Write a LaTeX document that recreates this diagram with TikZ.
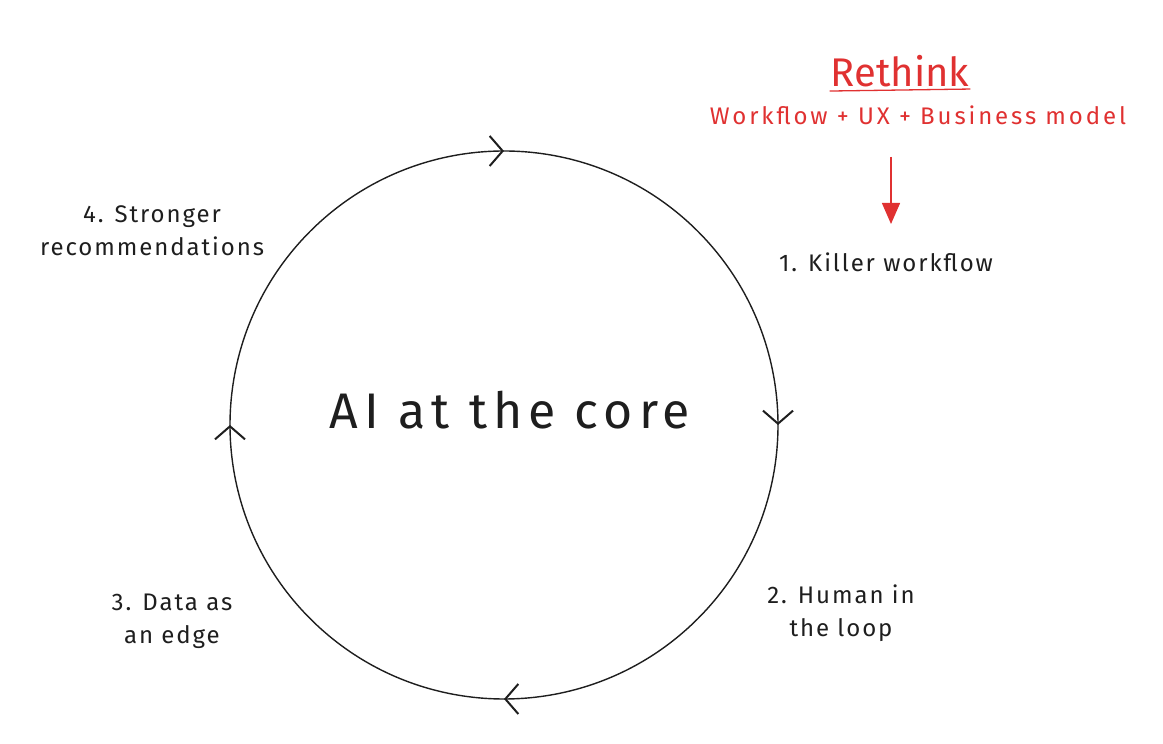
\documentclass[tikz,border=0pt]{standalone}
\usepackage{fontspec}
\setmainfont{Fira Sans}
\newfontfamily\handfont[LetterSpace=8]{Fira Sans}
\newfontfamily\widehandfont[LetterSpace=12]{Fira Sans}
\usetikzlibrary{arrows.meta, decorations.markings}
\definecolor{inkblack}{RGB}{30,30,30}
\definecolor{rethinkred}{RGB}{224,49,49}

\begin{document}
\begin{tikzpicture}[
    x=1pt, y=1pt,
    every node/.style={text=inkblack, align=center},
    lbl/.style={font=\handfont\fontsize{24}{33}\selectfont},
    redlbl/.style={font=\widehandfont\fontsize{24}{28}\selectfont, text=rethinkred},
    headlbl/.style={font=\fontsize{40}{44}\selectfont, text=rethinkred,
        inner sep=1pt},
    corelbl/.style={font=\widehandfont\fontsize{50}{56}\selectfont},
    flowcircle/.style={draw=inkblack, line width=1.4pt, postaction={decorate},
        decoration={markings,
            mark=between positions 0.125 and 0.875 step 0.25 with
                {\arrow{Straight Barb[length=13pt, width=30pt, line width=2pt]}}}},
    redline/.style={draw=rethinkred, line width=1.3pt},
    redarrow/.style={-{Triangle[length=21pt, width=18pt]},
        draw=rethinkred, fill=rethinkred, line width=1.4pt},
]
\useasboundingbox (0,0) rectangle (1163,744);

% ===== the cycle =====
\coordinate (core) at (504,319);
\draw[flowcircle] (core) ++(135:274)
    arc[start angle=135, end angle=-225, radius=274];
\node[corelbl] (corelabel) at (510,334) {AI at the core};

% ===== steps round the cycle =====
\node[lbl] (killer)   at (886,482) {1. Killer workflow};
\node[lbl] (human)    at (841,131) {2. Human in\\the loop};
\node[lbl] (data)     at (172,123) {3. Data as\\an edge};
\node[lbl] (stronger) at (152,513) {4. Stronger\\recommendations};

% ===== rethink note (top right) =====
\node[headlbl] (rethink)  at (900,673) {Rethink};
\node[redlbl]  (workflow) at (918,629) {Workflow + UX + Business model};
\draw[redline] ([yshift=-3pt]rethink.south west) -- ([yshift=-1pt]rethink.south east);

\coordinate (arrowtop)  at (891,587);
\coordinate (arrowhead) at (891,520);
\draw[redarrow] (arrowtop) -- (arrowhead);

\end{tikzpicture}
\end{document}
